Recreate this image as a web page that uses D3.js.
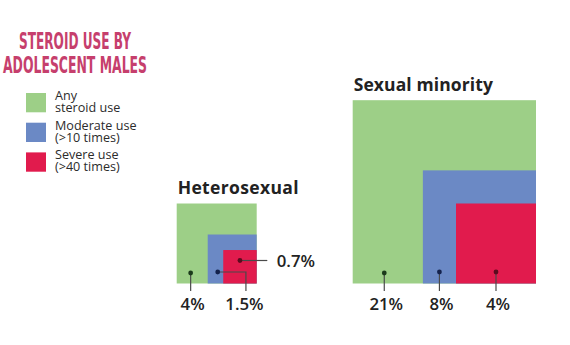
<!DOCTYPE html>
<html>
<head>
<meta charset="utf-8">
<script src="https://cdn.jsdelivr.net/npm/d3@7"></script>
<style>
  html, body { margin: 0; padding: 0; background: #ffffff; }
  svg { display: block; }
</style>
</head>
<body>
<svg id="chart" width="570" height="345"></svg>
<script>
// Share of adolescent males reporting steroid use, by orientation (%)
const groups = ["Heterosexual", "Sexual minority"];
const anyUse = [4, 21];
const moderateUse = [1.5, 8];
const severeUse = [0.7, 4];
const valueLabels = [["4%", "1.5%", "0.7%"], ["21%", "8%", "4%"]];

const titleLines = ["STEROID USE BY", "ADOLESCENT MALES"];
const legendLabels = [["Any", "steroid use"], ["Moderate use", "(>10 times)"], ["Severe use", "(>40 times)"]];
const levelColors = ["#9dcf87", "#6b89c5", "#e11b4d"];
const dotColors = ["#1b3a1b", "#14224d", "#5c0b1e"];

const svg = d3.select("#chart");

// Square side proportional to the square root of the percentage (area ~ value)
const side = d3.scaleSqrt().domain([0, 25]).range([0, 200]);

// Right edge of each group's nested squares; all share one baseline
const groupRight = d3.scaleOrdinal().domain(groups).range([256.7, 536]);
const baseY = 283.5;
const labelY = 310;

// ---- Title ----
const title = svg.append("g").attr("fill", "#c63f6d")
  .style("font-family", "'Liberation Sans Narrow', 'DejaVu Sans Condensed', sans-serif")
  .style("font-weight", 700)
  .style("font-size", "22.5px");
[[titleLines[0], 49, 112], [titleLines[1], 72.5, 144]].forEach(([t, y, w]) => {
  title.append("text")
    .attr("x", 75).attr("y", y)
    .attr("text-anchor", "middle")
    .attr("textLength", w)
    .attr("lengthAdjust", "spacingAndGlyphs")
    .text(t);
});

// ---- Legend ----
const legend = svg.append("g")
  .style("font-family", "'Open Sans', sans-serif")
  .style("font-size", "12.6px")
  .attr("fill", "#2b2b2b");
legendLabels.forEach((lines, i) => {
  const y0 = 93 + i * 29.7;
  legend.append("rect")
    .attr("x", 26).attr("y", y0)
    .attr("width", 20).attr("height", 19.3)
    .attr("fill", levelColors[i]);
  lines.forEach((t, j) => {
    legend.append("text")
      .attr("x", 55).attr("y", y0 + 7 + j * 12)
      .text(t);
  });
});

// ---- Nested squares ----
groups.forEach((g, gi) => {
  const vals = [anyUse[gi], moderateUse[gi], severeUse[gi]];
  const right = groupRight(g);
  const sq = vals.map(v => {
    const s = side(v);
    return { x0: right - s, y0: baseY - s, s };
  });

  const grp = svg.append("g");

  grp.append("text")
    .attr("x", sq[0].x0 + 1)
    .attr("y", sq[0].y0 - 9.5)
    .style("font-family", "'Open Sans', sans-serif")
    .style("font-weight", 700)
    .style("font-size", "17.5px")
    .style("letter-spacing", gi === 0 ? "0.35px" : "0.1px")
    .attr("fill", "#222")
    .text(g);

  sq.forEach((d, i) => {
    grp.append("rect")
      .attr("x", d.x0).attr("y", d.y0)
      .attr("width", d.s).attr("height", d.s)
      .attr("fill", levelColors[i]);
  });

  // Marker positions on each exposed band
  const compact = gi === 0;
  const dots = [
    { x: sq[0].x0 + 0.45 * (sq[1].x0 - sq[0].x0), y: baseY - 10.5 },
    { x: compact ? sq[1].x0 + 10 : (sq[1].x0 + sq[2].x0) / 2, y: baseY - 11.5 },
    { x: sq[2].x0 + sq[2].s / 2, y: compact ? baseY - 23 : baseY - 11.5 }
  ];

  const lineG = grp.append("g")
    .attr("fill", "none").attr("stroke", "#4a4a4a").attr("stroke-width", 1.2);
  const textG = grp.append("g")
    .style("font-family", "'Open Sans', sans-serif")
    .style("font-weight", 600)
    .style("font-size", "16.8px")
    .attr("fill", "#222");

  dots.forEach((p, i) => {
    let path, tx, ty, anchor;
    if (compact && i === 1) {
      const bx = sq[2].x0 + 22.7;
      path = [[p.x, p.y], [bx, p.y], [bx, 291]];
      tx = bx - 1.5; ty = labelY; anchor = "middle";
    } else if (compact && i === 2) {
      const ex = right + 10.6;
      path = [[p.x, p.y], [ex, p.y]];
      tx = ex + 9.4; ty = p.y + 6; anchor = "start";
    } else {
      path = [[p.x, p.y], [p.x, 291]];
      tx = p.x + 2; ty = labelY; anchor = "middle";
    }
    lineG.append("path").attr("d", d3.line()(path));
    grp.append("circle")
      .attr("cx", p.x).attr("cy", p.y).attr("r", 2.4)
      .attr("fill", dotColors[i]);
    textG.append("text")
      .attr("x", tx).attr("y", ty)
      .attr("text-anchor", anchor)
      .text(valueLabels[gi][i]);
  });
});
</script>
</body>
</html>
